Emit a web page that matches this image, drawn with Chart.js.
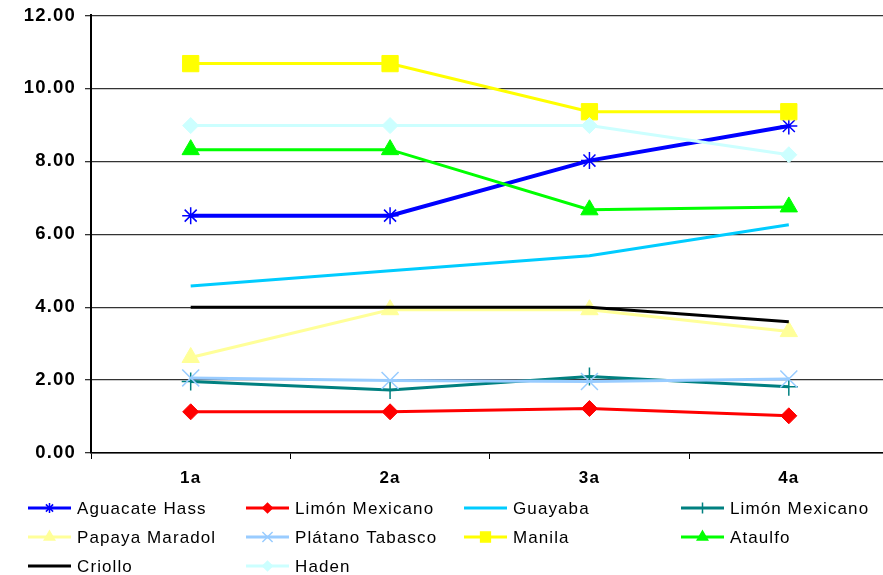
<!DOCTYPE html>
<html>
<head>
<meta charset="utf-8">
<script src="https://cdn.jsdelivr.net/npm/chart.js@4/dist/chart.umd.min.js"></script>
<style>
html,body{margin:0;padding:0;background:#fff;overflow:hidden;}
canvas{display:block;}
</style>
</head>
<body>
<canvas id="c" width="902" height="575" style="width:902px;height:575px"></canvas>
<script>
const categories = ['1a', '2a', '3a', '4a'];
const yTicks = [0, 2, 4, 6, 8, 10, 12];

const seriesNames = ['Aguacate Hass', 'Limón Mexicano', 'Guayaba', 'Limón Mexicano',
  'Papaya Maradol', 'Plátano Tabasco', 'Manila', 'Ataulfo', 'Criollo', 'Haden'];

const aguacateHass   = [6.51, 6.51, 8.02, 8.97];
const limonMexicano1 = [1.13, 1.13, 1.22, 1.02];
const guayaba        = [4.58, 5.00, 5.41, 6.26];
const limonMexicano2 = [1.96, 1.73, 2.10, 1.82];
const papayaMaradol  = [2.62, 3.93, 3.93, 3.33];
const platanoTabasco = [2.06, 1.99, 1.96, 2.03];
const manila         = [10.68, 10.68, 9.36, 9.36];
const ataulfo        = [8.32, 8.32, 6.67, 6.75];
const criollo        = [4.00, 4.00, 4.00, 3.60];
const haden          = [8.98, 8.98, 8.98, 8.18];

const seriesValues = [aguacateHass, limonMexicano1, guayaba, limonMexicano2,
  papayaMaradol, platanoTabasco, manila, ataulfo, criollo, haden];

const colors = ['#0000FF', '#FF0000', '#00CCFF', '#008080', '#FFFF99',
  '#99CCFF', '#FFFF00', '#00FF00', '#000000', '#CCFFFF'];
const styles = ['star', 'rectRot', false, 'cross', 'triangle', 'crossRot', 'rect', 'triangle', false, 'rectRot'];
const radii  = [8.5, 8, 0, 9, 10, 12, 11.5, 10, 0, 8];
const widths = [4, 3, 3, 3, 3, 3, 3, 3, 3, 3];

const datasets = seriesValues.map((vals, i) => ({
  label: seriesNames[i],
  data: vals,
  borderColor: colors[i],
  backgroundColor: colors[i],
  borderWidth: widths[i],
  pointStyle: styles[i],
  pointRadius: radii[i],
  pointBorderWidth: (styles[i] === 'star' || styles[i] === 'cross' || styles[i] === 'crossRot') ? 1.5 : 1,
  pointBackgroundColor: colors[i],
  pointBorderColor: colors[i],
  tension: 0,
  fill: false,
  order: 20 - i
}));

const spacingPlugin = {
  id: 'spacing',
  beforeDraw(chart) { chart.ctx.letterSpacing = '1.2px'; },
  beforeDatasetsDraw(chart) { chart.ctx.letterSpacing = '0px'; }
};

const legendPlugin = {
  id: 'gridLegend',
  afterDraw(chart) {
    const ctx = chart.ctx;
    const colX = [28, 246, 464, 681];
    const rowY = [508, 537, 566];
    ctx.save();
    chart.data.datasets.forEach((ds, i) => {
      const col = i % 4, row = Math.floor(i / 4);
      const x = colX[col], y = rowY[row];
      ctx.letterSpacing = '0px';
      ctx.strokeStyle = ds.borderColor;
      ctx.lineWidth = 3;
      ctx.beginPath();
      ctx.moveTo(x, y);
      ctx.lineTo(x + 43, y);
      ctx.stroke();
      if (ds.pointStyle) {
        ctx.fillStyle = ds.borderColor;
        ctx.strokeStyle = ds.borderColor;
        ctx.lineWidth = 1.5;
        Chart.helpers.drawPoint(ctx, {pointStyle: ds.pointStyle, radius: ds.pointRadius * 0.6, rotation: 0, borderWidth: 1.5}, x + 21.5, y);
      }
      ctx.fillStyle = '#000';
      ctx.font = '17px "Liberation Sans", Arial, sans-serif';
      ctx.letterSpacing = '1.1px';
      ctx.textBaseline = 'middle';
      ctx.textAlign = 'left';
      ctx.fillText(ds.label, x + 49, y + 1.5);
    });
    ctx.restore();
  }
};

new Chart(document.getElementById('c'), {
  type: 'line',
  data: { labels: categories, datasets },
  options: {
    responsive: false,
    animation: false,
    devicePixelRatio: 1,
    layout: { padding: { top: 14, right: 0, left: 0, bottom: 0 } },
    plugins: { legend: { display: false }, tooltip: { enabled: false } },
    scales: {
      x: {
        offset: true,
        grid: { display: true, drawOnChartArea: false, drawTicks: true, tickLength: 6, offset: true, color: '#000', lineWidth: 1 },
        border: { display: true, color: '#000', width: 1.5 },
        ticks: { color: '#000', padding: 9, font: { family: '"Liberation Sans", Arial, sans-serif', size: 17, weight: 'bold' } },
        afterFit(scale) { scale.height = 122; }
      },
      y: {
        min: 0, max: 12,
        afterBuildTicks(scale) { scale.ticks = yTicks.map(v => ({ value: v })); },
        grid: { color: '#333', lineWidth: 1.3, tickLength: 6, drawTicks: true },
        border: { display: true, color: '#000', width: 2 },
        ticks: {
          color: '#000', padding: 9,
          font: { family: '"Liberation Sans", Arial, sans-serif', size: 18.5, weight: 'bold', lineHeight: 0.7 },
          callback: v => Number(v).toFixed(2)
        },
        afterFit(scale) { scale.width = 91; }
      }
    }
  },
  plugins: [spacingPlugin, legendPlugin]
});
</script>
</body>
</html>
